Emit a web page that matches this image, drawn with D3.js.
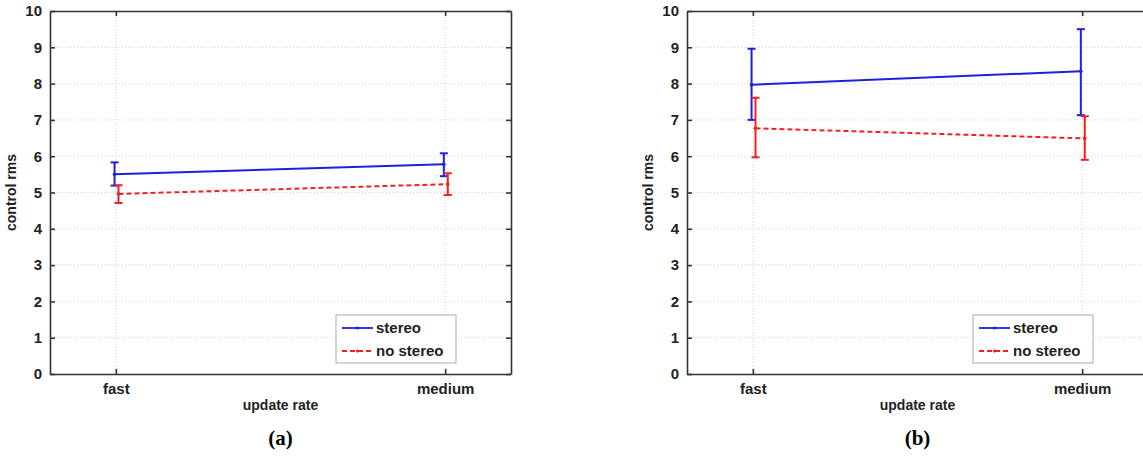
<!DOCTYPE html>
<html>
<head>
    <script src="https://d3js.org/d3.v7.min.js"></script>
    <style>
        body { margin: 0; background: white; }
        svg text { font-family: "Liberation Sans", Arial, sans-serif; font-weight: bold; fill: #222; }
        .caption { font-family: "Liberation Serif", "Times New Roman", serif !important; font-size: 21px; fill: #000 !important; }
    </style>
</head>
<body>
<svg id="chart" width="1143" height="456"></svg>
<script>
    // data
    var categories = ["fast", "medium"]
    var yTicks = [0, 1, 2, 3, 4, 5, 6, 7, 8, 9, 10]
    var seriesNames = ["stereo", "no stereo"]
    var captions = ["(a)", "(b)"]

    // panel (a)
    var stereoA = [5.50, 5.78]
    var stereoA_lo = [5.19, 5.45]
    var stereoA_hi = [5.83, 6.08]
    var noStereoA = [4.96, 5.23]
    var noStereoA_lo = [4.71, 4.93]
    var noStereoA_hi = [5.20, 5.53]

    // panel (b)
    var stereoB = [7.97, 8.34]
    var stereoB_lo = [7.00, 7.13]
    var stereoB_hi = [8.96, 9.50]
    var noStereoB = [6.77, 6.49]
    var noStereoB_lo = [5.97, 5.90]
    var noStereoB_hi = [7.61, 7.10]

    var svg = d3.select("#chart")
    var W = 461, H = 363

    var x = d3.scaleLinear().domain([0.8, 2.2]).range([0, W])
    var y = d3.scaleLinear().domain([0, 10]).range([H, 0])

    function drawPanel(left, caption, series) {
        var g = svg.append("g").attr("transform", "translate(" + left + ",11)")

        // grid
        g.selectAll(".hgrid").data(yTicks.slice(1, -1)).enter().append("line")
            .attr("x1", 0).attr("x2", W)
            .attr("y1", d => y(d)).attr("y2", d => y(d))
            .attr("stroke", "#d2d2d2").attr("stroke-dasharray", "1,2")
        g.selectAll(".vgrid").data(categories).enter().append("line")
            .attr("x1", (d, i) => x(i + 1)).attr("x2", (d, i) => x(i + 1))
            .attr("y1", 0).attr("y2", H)
            .attr("stroke", "#d2d2d2").attr("stroke-dasharray", "1,2")

        // axes with inward ticks, box on
        var yl = d3.axisLeft(y).tickValues(yTicks).tickSizeInner(-5).tickSizeOuter(0).tickPadding(8)
        var yr = d3.axisRight(y).tickValues(yTicks).tickSizeInner(-5).tickSizeOuter(0).tickFormat("")
        var xb = d3.axisBottom(x).tickValues([1, 2]).tickSizeInner(-5).tickSizeOuter(0).tickPadding(9)
            .tickFormat((d) => categories[d - 1])
        var xt = d3.axisTop(x).tickValues([1, 2]).tickSizeInner(-5).tickSizeOuter(0).tickFormat("")

        var ay = g.append("g").call(yl)
        var ar = g.append("g").attr("transform", "translate(" + W + ",0)").call(yr)
        var ab = g.append("g").attr("transform", "translate(0," + H + ")").call(xb)
        var at = g.append("g").call(xt)
        ;[ay, ar, ab, at].forEach(a => {
            a.select(".domain").attr("stroke", "#333").attr("stroke-width", 1.6)
            a.selectAll(".tick line").attr("stroke", "#333").attr("stroke-width", 1.6)
            a.selectAll("text").style("font-size", "15px").attr("fill", "#222")
        })

        g.append("text").attr("transform", "translate(-34," + (H / 2) + ") rotate(-90)")
            .attr("text-anchor", "middle").style("font-size", "14px").text("control rms")
        g.append("text").attr("x", W / 2).attr("y", H + 36)
            .attr("text-anchor", "middle").style("font-size", "14px").text("update rate")
        g.append("text").attr("class", "caption").attr("x", W / 2).attr("y", H + 71)
            .attr("text-anchor", "middle").text(caption)

        // series
        series.forEach(s => {
            var pts = s.mean.map((m, i) => ({ xv: i + 1 + s.off, m: m, lo: s.lo[i], hi: s.hi[i] }))
            var line = d3.line().x(d => x(d.xv)).y(d => y(d.m))
            g.append("path").datum(pts).attr("d", line).attr("fill", "none")
                .attr("stroke", s.color).attr("stroke-width", 2)
                .attr("stroke-dasharray", s.dash)
            var eb = g.selectAll(null).data(pts).enter().append("g").attr("stroke", s.color).attr("stroke-width", 2)
            eb.append("line").attr("x1", d => x(d.xv)).attr("x2", d => x(d.xv))
                .attr("y1", d => y(d.lo)).attr("y2", d => y(d.hi))
            eb.append("line").attr("x1", d => x(d.xv) - 4).attr("x2", d => x(d.xv) + 4)
                .attr("y1", d => y(d.lo)).attr("y2", d => y(d.lo))
            eb.append("line").attr("x1", d => x(d.xv) - 4).attr("x2", d => x(d.xv) + 4)
                .attr("y1", d => y(d.hi)).attr("y2", d => y(d.hi))
            g.selectAll(null).data(pts).enter().append("circle")
                .attr("cx", d => x(d.xv)).attr("cy", d => y(d.m)).attr("r", 1.8).attr("fill", s.color)
        })

        // legend
        var lg = g.append("g").attr("transform", "translate(" + (W - 175) + "," + (H - 59) + ")")
        lg.append("rect").attr("width", 120).attr("height", 48)
            .attr("fill", "white").attr("stroke", "#aaa").attr("stroke-width", 1)
        series.forEach((s, i) => {
            var ly = 13 + i * 23
            lg.append("line").attr("x1", 6).attr("x2", 37).attr("y1", ly).attr("y2", ly)
                .attr("stroke", s.color).attr("stroke-width", 1.8).attr("stroke-dasharray", s.dash)
            lg.append("circle").attr("cx", 21.5).attr("cy", ly).attr("r", 1.6).attr("fill", s.color)
            lg.append("text").attr("x", 40).attr("y", ly + 5).style("font-size", "15px").text(seriesNames[i])
        })
    }

    drawPanel(50, captions[0], [
        { mean: stereoA, lo: stereoA_lo, hi: stereoA_hi, color: "#1f1fe0", dash: null, off: -0.004 },
        { mean: noStereoA, lo: noStereoA_lo, hi: noStereoA_hi, color: "#ee2222", dash: "5,3", off: 0.008 }
    ])
    drawPanel(687, captions[1], [
        { mean: stereoB, lo: stereoB_lo, hi: stereoB_hi, color: "#1f1fe0", dash: null, off: -0.004 },
        { mean: noStereoB, lo: noStereoB_lo, hi: noStereoB_hi, color: "#ee2222", dash: "5,3", off: 0.008 }
    ])
</script>
</body>
</html>
